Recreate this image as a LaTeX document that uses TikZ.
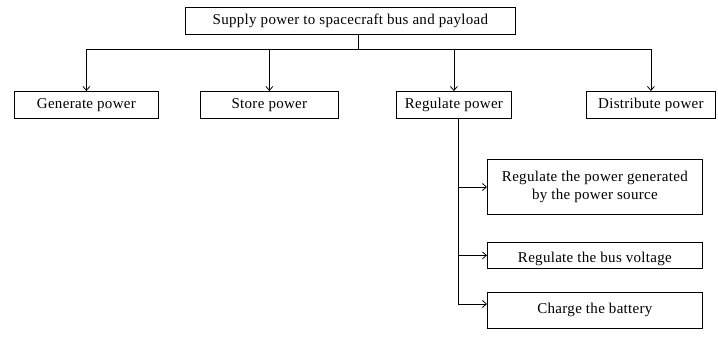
\documentclass[tikz,border=0pt]{standalone}
\usepackage{fontspec}
\setmainfont[LetterSpace=2]{Liberation Serif}
\usetikzlibrary{arrows.meta}
\begin{document}
\begin{tikzpicture}[x=1pt,y=-1pt,
  box/.style={draw=black,line width=0.8pt,inner sep=0pt,align=center,
    font=\fontsize{15}{18}\selectfont,anchor=north west},
  link/.style={line width=0.8pt},
  arr/.style={link,-{Straight Barb[length=4pt,width=7pt]}}]
  \useasboundingbox (0,0) rectangle (718,339);
  % top-level function
  \node[box,minimum width=330pt,minimum height=27pt] (top) at (185,7)
    {Supply power to spacecraft bus and payload};
  % second-level functions
  \node[box,minimum width=144pt,minimum height=27pt] (gen) at (14,91) {Generate power};
  \node[box,minimum width=138pt,minimum height=27pt] (sto) at (200,91) {Store power};
  \node[box,minimum width=115pt,minimum height=27pt] (reg) at (396,91) {Regulate power};
  \node[box,minimum width=129pt,minimum height=27pt] (dis) at (586,91) {Distribute power};
  % regulation sub-functions
  \node[box,minimum width=215pt,minimum height=55pt] (r1) at (487,159)
    {Regulate the power generated\\by the power source};
  \node[box,minimum width=215pt,minimum height=26pt,text depth=0pt] (r2) at (487,242)
    {\raisebox{-3pt}{Regulate the bus voltage}};
  \node[box,minimum width=215pt,minimum height=36pt] (r3) at (487,292) {Charge the battery};
  % distribution bus
  \coordinate (stem) at (358,49);
  \draw[link] (top.south -| stem) -- (stem);
  \draw[link] (gen.north |- stem) -- (dis.north |- stem);
  \foreach \n in {gen,sto,reg,dis}
    \draw[arr] (\n.north |- stem) -- (\n.north);
  % regulation branch
  \coordinate (rb) at (458,304);
  \draw[link] (reg.south -| rb) -- (rb);
  \draw[arr] (rb |- 0,187) -- (r1.west |- 0,187);
  \draw[arr] (rb |- r2.west) -- (r2.west);
  \draw[arr] (rb) -- (r3.west |- rb);
\end{tikzpicture}
\end{document}
